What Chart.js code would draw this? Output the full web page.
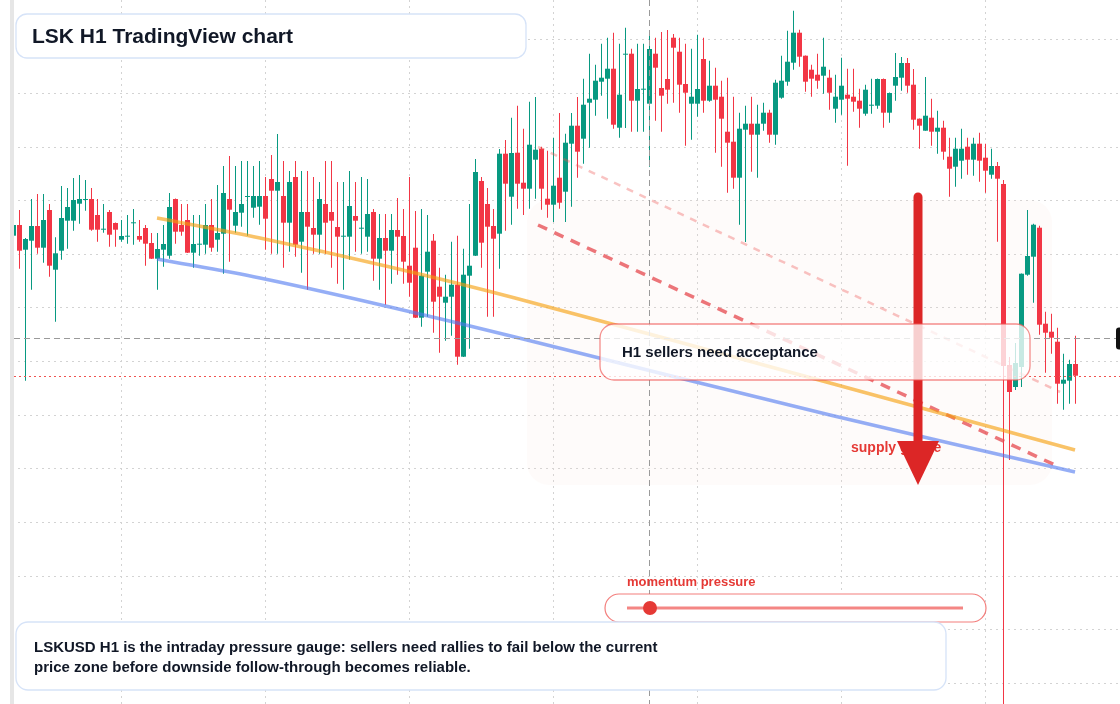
<!DOCTYPE html>
<html>
<head>
<meta charset="utf-8">
<title>LSK H1 TradingView chart</title>
<script src="https://cdn.jsdelivr.net/npm/chart.js@4"></script>
<style>
  html, body { margin: 0; padding: 0; background: #ffffff; }
  #wrap { position: relative; width: 1120px; height: 704px; overflow: hidden; }
</style>
</head>
<body>
<div id="wrap"><canvas id="chart" width="1120" height="704"></canvas></div>
<script>
// LSKUSD H1 candles, oldest first
const opens = [
  0.5643, 0.575, 0.5503, 0.5593, 0.574, 0.5523, 0.59, 0.5303, 0.5493, 0.5793,
  0.5793, 0.5963, 0.6, 0.601, 0.585, 0.5703, 0.588, 0.577, 0.5603, 0.5633,
  0.5767, 0.564, 0.572, 0.557, 0.5413, 0.5503, 0.5443, 0.601, 0.575, 0.58,
  0.5473, 0.5553, 0.5553, 0.575, 0.5603, 0.5663, 0.601, 0.5743, 0.5873, 0.603,
  0.5923, 0.5933, 0.604, 0.621, 0.6093, 0.604, 0.5773, 0.623, 0.5583, 0.588,
  0.572, 0.5653, 0.596, 0.588, 0.573, 0.5633, 0.5633, 0.584, 0.5713, 0.5633,
  0.588, 0.5413, 0.562, 0.5493, 0.57, 0.564, 0.5343, 0.5523, 0.4823, 0.5283,
  0.5593, 0.5133, 0.4973, 0.5033, 0.5153, 0.4433, 0.5243, 0.5443, 0.619, 0.596,
  0.574, 0.5663, 0.6463, 0.6033, 0.6473, 0.6173, 0.6113, 0.6403, 0.6513, 0.6013,
  0.5953, 0.6223, 0.6083, 0.6563, 0.6743, 0.6613, 0.6973, 0.7003, 0.7183, 0.7213,
  0.7313, 0.6723, 0.7453, 0.7463, 0.6993, 0.7103, 0.6963, 0.7463, 0.712, 0.721,
  0.7623, 0.7483, 0.716, 0.6963, 0.6963, 0.741, 0.6993, 0.7143, 0.7033, 0.6683,
  0.6583, 0.6223, 0.6703, 0.6763, 0.6653, 0.6763, 0.6873, 0.6653, 0.7023, 0.7183,
  0.7373, 0.7673, 0.7443, 0.7303, 0.7253, 0.7243, 0.7223, 0.6913, 0.7003, 0.7053,
  0.7033, 0.6993, 0.6863, 0.6943, 0.6943, 0.721, 0.6873, 0.7143, 0.7223, 0.737,
  0.7153, 0.6813, 0.6693, 0.6823, 0.6683, 0.6723, 0.6433, 0.6333, 0.6393, 0.6533,
  0.6403, 0.6563, 0.6423, 0.6253, 0.634, 0.616, 0.435, 0.413, 0.433, 0.5253,
  0.5433, 0.5723, 0.4763, 0.4683, 0.4583, 0.4163, 0.4193, 0.436
];
const highs = [
  0.579, 0.59, 0.562, 0.601, 0.606, 0.606, 0.596, 0.5627, 0.614, 0.612,
  0.622, 0.625, 0.62, 0.612, 0.601, 0.596, 0.59, 0.5775, 0.58, 0.585,
  0.591, 0.58, 0.575, 0.567, 0.567, 0.575, 0.607, 0.6015, 0.596, 0.596,
  0.585, 0.585, 0.596, 0.601, 0.615, 0.634, 0.644, 0.634, 0.639, 0.639,
  0.634, 0.639, 0.623, 0.645, 0.666, 0.639, 0.629, 0.639, 0.629, 0.629,
  0.623, 0.618, 0.639, 0.639, 0.618, 0.618, 0.629, 0.618, 0.623, 0.621,
  0.591, 0.586, 0.586, 0.586, 0.602, 0.591, 0.623, 0.589, 0.591, 0.585,
  0.566, 0.5323, 0.5253, 0.5583, 0.5643, 0.5513, 0.596, 0.641, 0.623, 0.612,
  0.591, 0.651, 0.66, 0.6823, 0.6943, 0.6713, 0.6983, 0.703, 0.6533, 0.6493,
  0.6623, 0.687, 0.6663, 0.687, 0.703, 0.7213, 0.7463, 0.7353, 0.7563, 0.7623,
  0.7673, 0.7563, 0.7723, 0.7513, 0.7563, 0.7563, 0.7663, 0.7623, 0.768, 0.77,
  0.766, 0.7623, 0.7563, 0.7513, 0.7653, 0.7623, 0.7393, 0.7323, 0.7193, 0.7223,
  0.7033, 0.6873, 0.6943, 0.7033, 0.6953, 0.6973, 0.6903, 0.7203, 0.7443, 0.7693,
  0.7893, 0.7703, 0.7445, 0.7353, 0.7463, 0.7623, 0.7303, 0.7253, 0.7423, 0.7313,
  0.7313, 0.7113, 0.7153, 0.7213, 0.7215, 0.7215, 0.7075, 0.747, 0.743, 0.742,
  0.731, 0.6815, 0.723, 0.7013, 0.6893, 0.6793, 0.6623, 0.6623, 0.6713, 0.6623,
  0.6623, 0.6673, 0.6563, 0.6513, 0.638, 0.62, 0.443, 0.457, 0.5265, 0.59,
  0.5763, 0.5743, 0.4883, 0.4863, 0.4723, 0.4463, 0.4403, 0.4643
];
const lows = [
  0.559, 0.5313, 0.4193, 0.5103, 0.5463, 0.5373, 0.5233, 0.4783, 0.5403, 0.5513,
  0.5693, 0.5763, 0.5893, 0.5693, 0.5583, 0.5673, 0.5533, 0.5533, 0.5583, 0.5563,
  0.5553, 0.5583, 0.5343, 0.541, 0.5103, 0.5333, 0.5413, 0.5563, 0.5643, 0.547,
  0.5323, 0.5443, 0.5463, 0.5483, 0.5483, 0.5263, 0.5383, 0.5673, 0.5733, 0.5643,
  0.5823, 0.5753, 0.5503, 0.5463, 0.5463, 0.5323, 0.5483, 0.5433, 0.5273, 0.5103,
  0.5463, 0.5463, 0.5463, 0.5323, 0.5163, 0.5103, 0.5403, 0.5483, 0.5463, 0.5483,
  0.5193, 0.5103, 0.4953, 0.5163, 0.5253, 0.5163, 0.5033, 0.482, 0.4733, 0.4833,
  0.4673, 0.4473, 0.4593, 0.4643, 0.4353, 0.443, 0.4513, 0.544, 0.5323, 0.4833,
  0.4833, 0.5313, 0.5693, 0.5753, 0.5913, 0.585, 0.5913, 0.6013, 0.5903, 0.5823,
  0.578, 0.5913, 0.578, 0.5933, 0.6223, 0.6363, 0.6523, 0.6843, 0.7043, 0.6813,
  0.6713, 0.6623, 0.672, 0.6683, 0.6683, 0.6683, 0.6333, 0.6793, 0.6683, 0.6963,
  0.6973, 0.6873, 0.6543, 0.6603, 0.6833, 0.6873, 0.6983, 0.6473, 0.6333, 0.6073,
  0.6113, 0.5753, 0.558, 0.6283, 0.6223, 0.6693, 0.6573, 0.6553, 0.7013, 0.7143,
  0.7303, 0.7333, 0.7083, 0.7033, 0.7113, 0.7063, 0.6903, 0.6773, 0.6853, 0.6343,
  0.6883, 0.6723, 0.6843, 0.6863, 0.6913, 0.6723, 0.6773, 0.6993, 0.7093, 0.7073,
  0.6703, 0.6513, 0.6693, 0.6543, 0.6463, 0.6403, 0.6033, 0.6133, 0.6213, 0.6253,
  0.6243, 0.6183, 0.6073, 0.6213, 0.5583, 0.08, 0.34, 0.41, 0.413, 0.5243,
  0.4973, 0.4653, 0.4273, 0.4463, 0.3963, 0.3903, 0.3963, 0.3963
];
const closes = [
  0.575, 0.5493, 0.561, 0.574, 0.5523, 0.58, 0.5343, 0.5467, 0.582, 0.593,
  0.6, 0.601, 0.6007, 0.5703, 0.5703, 0.5713, 0.5653, 0.5703, 0.564, 0.564,
  0.5773, 0.5603, 0.5563, 0.5413, 0.551, 0.556, 0.593, 0.5683, 0.5683, 0.5473,
  0.556, 0.556, 0.575, 0.5523, 0.567, 0.607, 0.5903, 0.588, 0.596, 0.604,
  0.604, 0.604, 0.5813, 0.6093, 0.618, 0.5773, 0.618, 0.5553, 0.588, 0.5733,
  0.5653, 0.601, 0.5773, 0.5793, 0.5633, 0.564, 0.594, 0.5793, 0.572, 0.586,
  0.5413, 0.562, 0.5493, 0.57, 0.5633, 0.5383, 0.5173, 0.4823, 0.5243, 0.5483,
  0.4983, 0.5033, 0.5033, 0.5153, 0.4433, 0.5253, 0.5343, 0.628, 0.5573, 0.5733,
  0.5613, 0.6463, 0.6163, 0.647, 0.6163, 0.6113, 0.6553, 0.6503, 0.6113, 0.5953,
  0.6143, 0.5973, 0.6573, 0.6743, 0.6483, 0.6953, 0.7013, 0.7193, 0.7223, 0.7313,
  0.6753, 0.7053, 0.7463, 0.6993, 0.711, 0.711, 0.751, 0.7323, 0.7043, 0.7103,
  0.7523, 0.7153, 0.7073, 0.7033, 0.711, 0.6993, 0.7143, 0.7003, 0.6813, 0.6573,
  0.6223, 0.6713, 0.6763, 0.6653, 0.6763, 0.6873, 0.6653, 0.7173, 0.7193, 0.7383,
  0.7673, 0.7433, 0.7183, 0.7213, 0.7193, 0.7333, 0.7073, 0.7033, 0.7143, 0.7013,
  0.6983, 0.6913, 0.7103, 0.6953, 0.721, 0.6873, 0.707, 0.723, 0.737, 0.7143,
  0.6803, 0.6743, 0.6843, 0.6683, 0.6723, 0.6483, 0.6313, 0.6513, 0.6513, 0.6403,
  0.6563, 0.6393, 0.6293, 0.634, 0.6213, 0.434, 0.408, 0.437, 0.5263, 0.544,
  0.5753, 0.4753, 0.4673, 0.4623, 0.4163, 0.4203, 0.436, 0.4243
];

// grid: day separators (bar index) and price levels
const dayBreaks = [18, 42, 66, 90, 114, 138, 162];
const gridPrices = [0.7601, 0.7065, 0.6529, 0.5993, 0.5457, 0.4921, 0.4385, 0.3849, 0.3316, 0.2778, 0.2234, 0.1706, 0.117];

// drawn trend lines (bar index, price)
const orangeX = [23.92, 41.08, 62.75, 83.58, 136.08, 176.92];
const orangeY = [0.582, 0.562, 0.533, 0.502, 0.417, 0.350];
const blueX = [23.92, 41.08, 62.75, 83.58, 136.08, 176.92];
const blueY = [0.541, 0.522, 0.493, 0.463, 0.385, 0.328];
const fadeX = [87.42, 174.42];
const fadeY = [0.653, 0.408];
const redX = [87.42, 173.58];
const redY = [0.575, 0.335];

// crosshair
const crossIndex = 106;
const crossPrice = 0.462;

const GREEN = '#089981';
const RED = '#f23645';
const FONT = '"Liberation Sans", Arial, Helvetica, sans-serif';

const idx = opens.map((_, i) => i);
const candleColors = idx.map(i => closes[i] >= opens[i] ? GREEN : RED);
const toPts = (xs, ys) => xs.map((x, k) => ({ x: x, y: ys[k] }));

function rr(ctx, x, y, w, h, r) {
  ctx.beginPath();
  ctx.moveTo(x + r, y);
  ctx.lineTo(x + w - r, y);
  ctx.arcTo(x + w, y, x + w, y + r, r);
  ctx.lineTo(x + w, y + h - r);
  ctx.arcTo(x + w, y + h, x + w - r, y + h, r);
  ctx.lineTo(x + r, y + h);
  ctx.arcTo(x, y + h, x, y + h - r, r);
  ctx.lineTo(x, y + r);
  ctx.arcTo(x, y, x + r, y, r);
  ctx.closePath();
}

function card(ctx, x, y, w, h, r, stroke, fill, lw) {
  rr(ctx, x, y, w, h, r);
  ctx.fillStyle = fill;
  ctx.fill();
  ctx.lineWidth = lw;
  ctx.strokeStyle = stroke;
  ctx.stroke();
}

const overlay = {
  id: 'overlay',
  beforeDatasetsDraw(chart) {
    const ctx = chart.ctx;
    ctx.save();
    // supply zone shading, very faint
    rr(ctx, 527, 200, 525, 285, 22);
    ctx.fillStyle = 'rgba(250,225,215,0.13)';
    ctx.fill();
    ctx.restore();
  },
  afterDraw(chart) {
    const ctx = chart.ctx;
    const xs = chart.scales.x, ys = chart.scales.y;
    const W = chart.width, H = chart.height;
    ctx.save();

    // crosshair
    const cx = Math.round(xs.getPixelForValue(crossIndex)) + 0.5;
    const cy = Math.round(ys.getPixelForValue(crossPrice)) + 0.5;
    ctx.strokeStyle = '#9a9a9a';
    ctx.lineWidth = 1;
    ctx.setLineDash([6, 4]);
    ctx.beginPath();
    ctx.moveTo(cx, 0); ctx.lineTo(cx, H);
    ctx.moveTo(14, cy); ctx.lineTo(W - 4, cy);
    ctx.stroke();

    // last price line
    const py = Math.round(ys.getPixelForValue(closes[closes.length - 1])) + 0.5;
    ctx.strokeStyle = '#ef5350';
    ctx.setLineDash([2, 3]);
    ctx.beginPath();
    ctx.moveTo(14, py); ctx.lineTo(W, py);
    ctx.stroke();
    ctx.setLineDash([]);

    // supply gauge label (under the arrow head)
    ctx.fillStyle = '#e53935';
    ctx.font = 'bold 14px ' + FONT;
    ctx.textBaseline = 'middle';
    ctx.fillText('supply gauge', 851, 448);

    // big down arrow
    ctx.strokeStyle = '#dc2626';
    ctx.lineWidth = 9;
    ctx.lineCap = 'round';
    ctx.beginPath();
    ctx.moveTo(918, 197); ctx.lineTo(918, 446);
    ctx.stroke();
    ctx.lineCap = 'butt';
    ctx.fillStyle = '#dc2626';
    ctx.beginPath();
    ctx.moveTo(897, 441); ctx.lineTo(939, 441); ctx.lineTo(918, 485);
    ctx.closePath();
    ctx.fill();

    // H1 callout
    card(ctx, 600, 324, 430, 56, 14, 'rgba(239,83,80,0.65)', 'rgba(255,255,255,0.78)', 1.3);
    ctx.fillStyle = '#111827';
    ctx.font = 'bold 15px ' + FONT;
    ctx.fillText('H1 sellers need acceptance', 622, 353);

    // title
    card(ctx, 16, 14, 510, 44, 11, '#d6e3f8', '#ffffff', 1.3);
    ctx.fillStyle = '#111827';
    ctx.font = 'bold 21px ' + FONT;
    ctx.fillText('LSK H1 TradingView chart', 32, 37);

    // momentum gauge
    ctx.fillStyle = '#e53935';
    ctx.font = 'bold 13px ' + FONT;
    ctx.fillText('momentum pressure', 627, 582.5);
    card(ctx, 605, 594, 381, 28, 14, 'rgba(239,83,80,0.75)', '#ffffff', 1.2);
    ctx.strokeStyle = 'rgba(239,83,80,0.7)';
    ctx.lineWidth = 3;
    ctx.beginPath();
    ctx.moveTo(627, 608); ctx.lineTo(963, 608);
    ctx.stroke();
    ctx.fillStyle = '#e53935';
    ctx.beginPath();
    ctx.arc(650, 608, 7, 0, Math.PI * 2);
    ctx.fill();

    // bottom note
    card(ctx, 16, 622, 930, 68, 12, '#d6e3f8', '#ffffff', 1.3);
    ctx.fillStyle = '#111827';
    ctx.font = 'bold 15px ' + FONT;
    ctx.fillText('LSKUSD H1 is the intraday pressure gauge: sellers need rallies to fail below the current', 34, 648);
    ctx.fillText('price zone before downside follow-through becomes reliable.', 34, 668);

    // left margin, edge strip and clipped price label on the right
    ctx.fillStyle = '#ffffff';
    ctx.fillRect(0, 0, 10, H);
    ctx.fillStyle = '#e6e6e6';
    ctx.fillRect(10, 0, 4, H);
    ctx.fillStyle = '#111111';
    rr(ctx, 1116, cy - 11, 14, 22, 3);
    ctx.fill();

    ctx.restore();
  }
};

const gridOpts = { color: '#d3d3d3', lineWidth: 1, drawTicks: false, offset: false };

new Chart(document.getElementById('chart'), {
  type: 'bar',
  data: {
    datasets: [
      {
        type: 'line', label: 'orange', data: toPts(orangeX, orangeY), order: 0,
        borderColor: 'rgba(245,158,11,0.62)', borderWidth: 3.5, tension: 0.35,
        pointRadius: 0, fill: false
      },
      {
        type: 'line', label: 'blue', data: toPts(blueX, blueY), order: 0,
        borderColor: 'rgba(79,120,240,0.6)', borderWidth: 3.5, tension: 0.35,
        pointRadius: 0, fill: false
      },
      {
        type: 'line', label: 'fade', data: toPts(fadeX, fadeY), order: 0,
        borderColor: 'rgba(239,83,80,0.35)', borderWidth: 2.5, borderDash: [7, 7],
        pointRadius: 0, fill: false
      },
      {
        type: 'line', label: 'red', data: toPts(redX, redY), order: 0,
        borderColor: 'rgba(229,72,77,0.75)', borderWidth: 3.5, borderDash: [10, 8],
        pointRadius: 0, fill: false
      },
      {
        label: 'body', data: idx.map(i => ({ x: i, y: [opens[i], closes[i]] })), order: 1,
        backgroundColor: candleColors, barThickness: 5, grouped: false,
        borderWidth: 0, inflateAmount: 0, minBarLength: 1
      },
      {
        label: 'wick', data: idx.map(i => ({ x: i, y: [lows[i], highs[i]] })), order: 2,
        backgroundColor: candleColors, barThickness: 1, grouped: false,
        borderWidth: 0, inflateAmount: 0
      }
    ]
  },
  options: {
    responsive: false,
    animation: false,
    events: [],
    layout: { padding: 0, autoPadding: false },
    plugins: { legend: { display: false }, tooltip: { enabled: false } },
    scales: {
      x: {
        type: 'linear', min: -2.25, max: 184.4167, offset: false, bounds: 'data',
        grid: gridOpts, border: { display: false, dash: [2, 4] },
        ticks: { display: false },
        afterBuildTicks: s => { s.ticks = dayBreaks.map(v => ({ value: v })); }
      },
      y: {
        type: 'linear', min: 0.096, max: 0.8, bounds: 'data',
        grid: gridOpts, border: { display: false, dash: [2, 4] },
        ticks: { display: false },
        afterBuildTicks: s => { s.ticks = gridPrices.map(v => ({ value: v })); }
      }
    }
  },
  plugins: [overlay]
});
</script>
</body>
</html>
